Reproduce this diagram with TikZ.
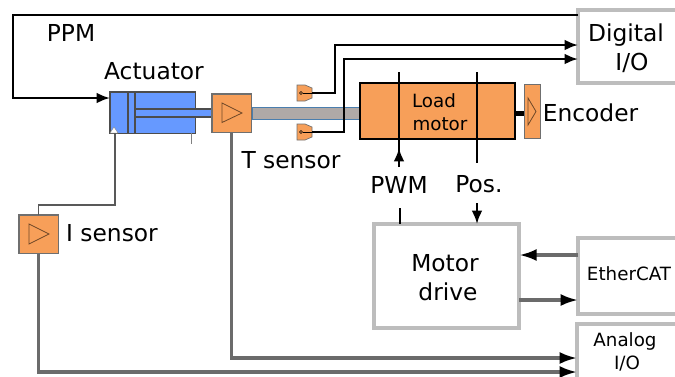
\documentclass[tikz,border=0pt]{standalone}
\usepackage{fontspec}
\setmainfont{DejaVu Sans}
\usetikzlibrary{arrows.meta,calc}
\definecolor{orangebox}{HTML}{F79F59}
\definecolor{bluecyl}{HTML}{6699FF}
\definecolor{rodgray}{HTML}{AFA9A7}
\definecolor{rodedge}{HTML}{4A7EAE}
\definecolor{panel}{HTML}{BDBDBD}
\definecolor{edgeg}{HTML}{6F6F6F}
\newcommand{\fs}[1]{\fontsize{#1}{#1}\selectfont}
\tikzset{
  x=0.75pt,y=-0.75pt,
  panelbox/.style={draw=panel,line width=3pt,fill=white,inner sep=0pt,outer sep=0pt},
  sensorbox/.style={draw=edgeg,line width=1pt,fill=orangebox,inner sep=0pt,outer sep=0pt,minimum width=29.5pt,minimum height=29pt},
  txt/.style={inner sep=0pt,text=black,align=center},
  big/.style={txt,font=\fs{17.5}},
  small/.style={txt,font=\fs{13.7}},
  wire/.style={black,line width=1.7pt},
  wirearrow/.style={wire,-{Latex[length=10pt,width=8pt]}},
  bus/.style={draw=black!58,line width=2.3pt,-{Latex[black,length=13pt,width=9pt]}},
  thin line/.style={draw=black!65,line width=1pt},
  tri/.style={draw=black!55!orangebox,line width=0.6pt,fill=none},
}
\begin{document}
\begin{tikzpicture}
\useasboundingbox (0,0) rectangle (675,376);
\clip (0,0) rectangle (675,376);
\fill[white] (0,0) rectangle (675,376);

% I/O panels
\node[panelbox,minimum width=90pt,minimum height=55pt,anchor=north west] (digital) at (578,10) {};
\node[panelbox,minimum width=90pt,minimum height=57pt,anchor=north west] (ethercat) at (578,238) {};
\node[panelbox,minimum width=90pt,minimum height=60pt,anchor=north west] (analog) at (577,324) {};
\node[panelbox,minimum width=109pt,minimum height=78pt,anchor=north west] (drive) at (374,224) {};

% rod and motor
\node[draw=rodedge,line width=0.9pt,fill=rodgray,minimum width=81pt,minimum height=9.5pt,inner sep=0pt,outer sep=0pt,anchor=west] (rod) at (252,113.5) {};
\node[draw=black,line width=1.6pt,fill=orangebox,minimum width=116pt,minimum height=42pt,inner sep=0pt,outer sep=0pt,anchor=north west] (motor) at (360,83) {};
\node[draw=edgeg,line width=0.6pt,fill=orangebox,minimum width=12pt,minimum height=41pt,inner sep=0pt,outer sep=0pt,anchor=north west] (encoder) at (524,84) {};
\draw[tri] (528,98) -- (536,111.5) -- (528,125) -- cycle;
\draw[black,line width=4pt] (motor.east |- 0,113.5) -- (encoder.west |- 0,113.5);

% actuator
\node[draw=black!70,line width=0.9pt,fill=bluecyl,minimum width=64pt,minimum height=31pt,inner sep=0pt,outer sep=0pt,anchor=north west] (actuator) at (110,92) {};
\fill[bluecyl] (135,109) rectangle (212,117);
\draw[black!70,line width=0.9pt] (135,109) -- (212,109) (135,117) -- (212,117);
\draw[black!70,line width=0.9pt] (128,92) -- (128,133) (135,92) -- (135,133);
\draw[draw=black!50,fill=white,line width=0.3pt] (114,127) -- (118,133) -- (110,133) -- cycle;
\coordinate (stub) at (191,144);
\draw[black!50,line width=0.7pt] (stub |- actuator.south) -- (stub);

% sensors
\node[sensorbox,anchor=north west] (tsensor) at (212,94) {};
\draw[tri] (222,103) -- (242,113) -- (222,122.5) -- cycle;
\node[sensorbox,anchor=north west] (isensor) at (19,215) {};
\draw[tri] (29,224) -- (49,234) -- (29,244) -- cycle;

% switches
\foreach \n/\y in {gateA/85,gateB/124}{
  \draw[draw=edgeg,fill=orangebox,line width=0.5pt] (297,\y) -- (305,\y) -- (312,\y+3) -- (312,\y+13) -- (305,\y+16) -- (297,\y+16) -- cycle;
  \node[inner sep=0pt,minimum size=0pt,outer sep=0pt] (\n) at (312,\y+8) {};
  \draw[black,line width=0.5pt,fill=none] (301,\y+8) circle (1.5);
  \draw[black,line width=0.6pt] (303,\y+8) -- (\n);
}

% signal wires
\coordinate (ppmin) at (actuator.west |- 0,98);
\draw[wire,line join=miter] (digital.west |- 0,15) -- (13,15) -- (13,98) -- (96,98);
\draw[wirearrow] (90,98) -- (ppmin);
\draw[wirearrow] (gateA) -- (335,93) |- (digital.west |- 0,45);
\draw[wirearrow] (gateB) -- (344,132) |- (digital.west |- 0,59);

% motor signals
\coordinate (pwmtop) at (399,72);
\coordinate (pwmlow) at (399,167);
\coordinate (postop) at (477,72);
\coordinate (poslow) at (477,163);
\draw[wire] (pwmtop) -- (pwmlow);
\draw[wirearrow] (399,167) -- (399,148);
\draw[wire,line width=1.3pt] (postop) -- (poslow);
\coordinate (pwmdrv) at (400,208);
\coordinate (posdrv) at (477,203);
\draw[wire] (pwmdrv) -- (pwmdrv |- drive.north);
\draw[wirearrow] (posdrv) -- (posdrv |- drive.north);

% ethercat
\draw[bus] (ethercat.west |- 0,255) -- (drive.east |- 0,255);
\draw[bus] (drive.east |- 0,300) -- (ethercat.west |- 0,300);

% analog buses
\draw[bus] (tsensor.south) |- (analog.west |- 0,358);
\draw[bus] (isensor.south) |- (analog.west |- 0,372);
\draw[thin line] (isensor.north) |- (115,205) -- (115,133);

% labels
\node[big] (lppm) at (71,33) {PPM};
\node[big] (lact) at (154,71) {Actuator};
\node[big] (lts) at (291,160) {T sensor};
\node[big] (lis) at (112,233) {I sensor};
\node[big] (lenc) at (590.5,113) {Encoder};
\node[big] (lpwm) at (399,185) {PWM};
\node[big] (lpos) at (479,184) {Pos.};
\node[big] (lmot) at (445,263) {Motor};
\node[big] (ldrv) at (448,292) {drive};
\node[big] (ldig) at (626,35) {Digital};
\node[big] (ldio) at (632,63) {I/O};
\node[small] (lload) at (434,101) {Load};
\node[small] (lmtr) at (440,124) {motor};
\node[small] (leth) at (629,274) {EtherCAT};
\node[small] (lana) at (625,341) {Analog};
\node[small] (laio) at (627,364) {I/O};
\end{tikzpicture}
\end{document}
